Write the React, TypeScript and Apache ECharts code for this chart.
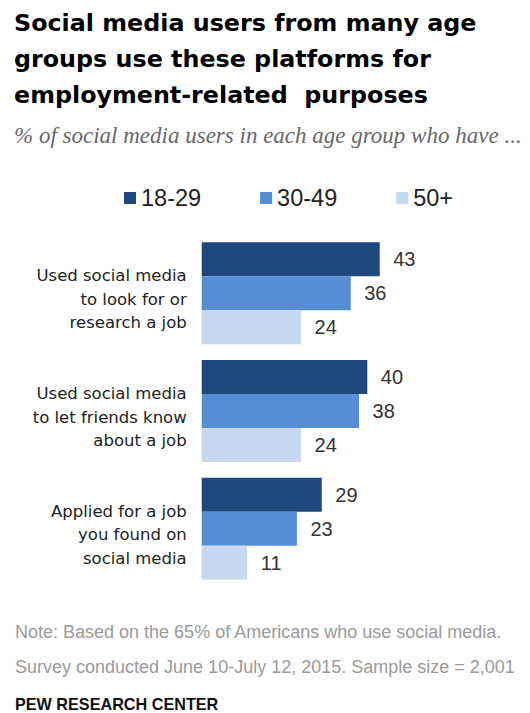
import React, { useEffect, useRef } from "react";
import * as echarts from "echarts";

const categories = [
  "Used social media\nto look for or\nresearch a job",
  "Used social media\nto let friends know\nabout a job",
  "Applied for a job\nyou found on\nsocial media",
];
const seriesNames = ["18-29", "30-49", "50+"];
const values1829 = [43, 40, 29];
const values3049 = [36, 38, 23];
const values50 = [24, 24, 11];
const colors = ["#1F497D", "#558ED5", "#C6D9F1"];

const titleText = "Social media users from many age\ngroups use these platforms for\nemployment-related  purposes";
const subtitleText = "% of social media users in each age group who have ...";
const noteText = "Note: Based on the 65% of Americans who use social media.";
const surveyText = "Survey conducted June 10-July 12, 2015. Sample size = 2,001";
const sourceText = "PEW RESEARCH CENTER";

export default function App() {
  const ref = useRef<HTMLDivElement>(null);
  useEffect(() => {
    if (!ref.current) return;
    const chart = echarts.init(ref.current, null, { renderer: "svg" });
    const seriesData = [values1829, values3049, values50];
    chart.setOption({
      animation: false,
      backgroundColor: "#ffffff",
      legend: {
        data: seriesNames,
        left: 124,
        top: 186,
        padding: 0,
        icon: "rect",
        itemWidth: 12,
        itemHeight: 12,
        itemGap: 59,
        selectedMode: false,
        textStyle: {
          fontFamily: "Liberation Sans",
          fontSize: 23.5,
          color: "#222",
          lineHeight: 24,
        },
      },
      grid: {
        left: 201.7,
        top: 234.4,
        width: 310.5,
        height: 353.25,
      },
      xAxis: {
        type: "value",
        min: 0,
        max: 75,
        show: false,
        splitLine: { show: false },
      },
      yAxis: {
        type: "category",
        data: categories,
        inverse: true,
        axisLine: { show: false },
        axisTick: { show: false },
        axisLabel: {
          margin: 15,
          align: "right",
          formatter: (value: string) =>
            "{s| }\n" +
            value
              .split("\n")
              .map((line) => `{a|${line}}`)
              .join("\n"),
          rich: {
            a: {
              fontFamily: "DejaVu Sans",
              fontSize: 16.5,
              lineHeight: 23.5,
              color: "#222",
              align: "right",
            },
            s: {
              fontSize: 1,
              lineHeight: 12,
              align: "right",
            },
          },
        },
      },
      series: seriesNames.map((name, i) => ({
        name,
        type: "bar",
        data: seriesData[i],
        barWidth: 34,
        barGap: "0%",
        itemStyle: { color: colors[i] },
        label: {
          show: true,
          position: "right",
          distance: 13.5,
          fontFamily: "Liberation Sans",
          fontSize: 20,
          color: "#333",
        },
      })),
      graphic: [
        {
          type: "text",
          left: 14,
          top: 4.5,
          style: {
            text: titleText,
            fontFamily: "DejaVu Sans",
            fontWeight: "bold",
            fontSize: 23.8,
            lineHeight: 36,
            fill: "#000",
          },
        },
        {
          type: "text",
          x: 14,
          y: 135.5,
          style: {
            text: subtitleText,
            fontFamily: "Liberation Serif",
            fontStyle: "italic",
            fontSize: 23,
            fill: "#686868",
            verticalAlign: "middle",
          },
        },
        {
          type: "text",
          x: 15,
          y: 632,
          style: {
            text: noteText,
            fontFamily: "Liberation Sans",
            fontSize: 18,
            fill: "#9a9a9a",
            verticalAlign: "middle",
          },
        },
        {
          type: "text",
          x: 15,
          y: 666.5,
          style: {
            text: surveyText,
            fontFamily: "Liberation Sans",
            fontSize: 18,
            fill: "#9a9a9a",
            verticalAlign: "middle",
          },
        },
        {
          type: "text",
          x: 15,
          y: 703.5,
          style: {
            text: sourceText,
            fontFamily: "Liberation Sans",
            fontWeight: "bold",
            fontSize: 16.2,
            fill: "#111",
            verticalAlign: "middle",
          },
        },
      ],
    });
    return () => chart.dispose();
  }, []);
  return (
    <div
      ref={ref}
      style={{ position: "absolute", left: 0, top: 0, width: 530, height: 713 }}
    />
  );
}
